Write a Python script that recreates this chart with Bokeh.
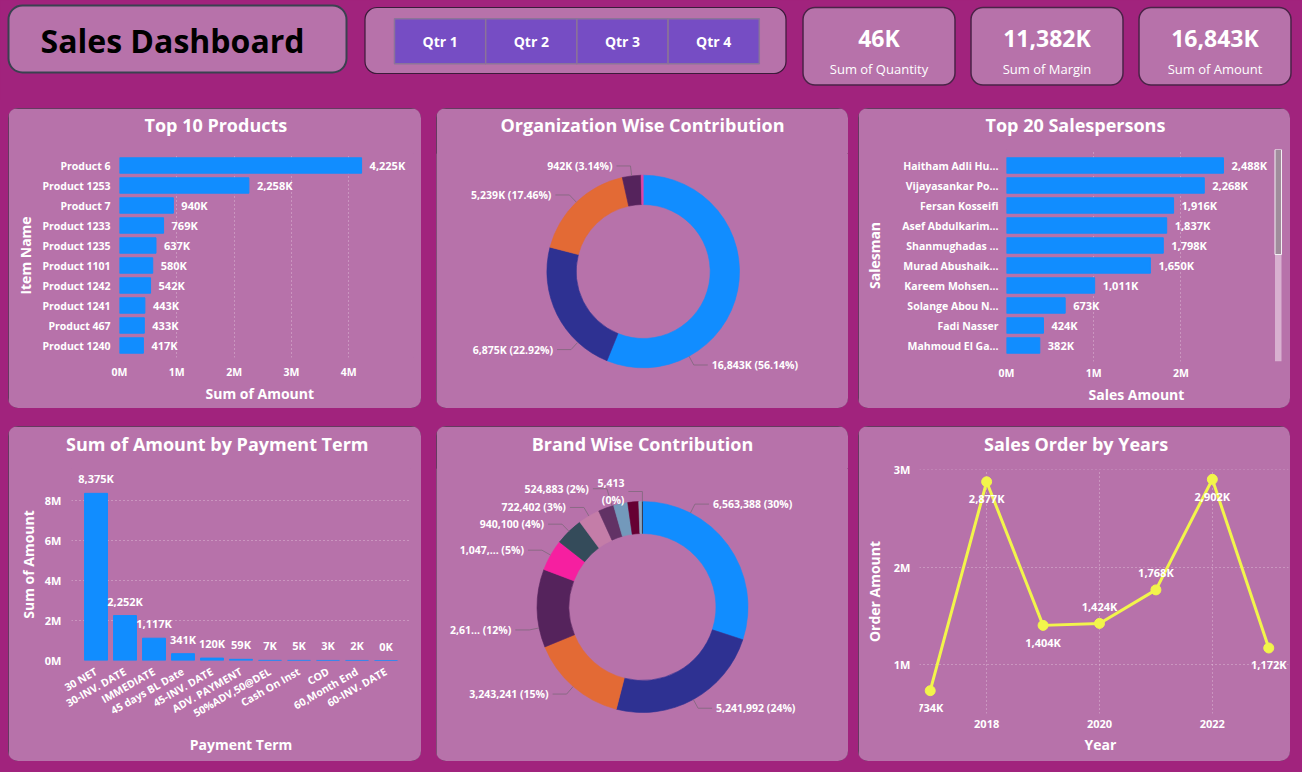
import math
from bokeh.plotting import figure
from bokeh.models import (ColumnDataSource, FactorRange, Range1d, FixedTicker,
                          BoxAnnotation, Title)
from bokeh.layouts import row, column
from bokeh.core.properties import value
from bokeh.embed import file_html
from bokeh.resources import INLINE

# ---------------- data ----------------
kpi_values_k = [46, 11382, 16843]
kpi_names = ["Sum of Quantity", "Sum of Margin", "Sum of Amount"]
quarters = ["Qtr 1", "Qtr 2", "Qtr 3", "Qtr 4"]

products = ["Product 6", "Product 1253", "Product 7", "Product 1233", "Product 1235",
            "Product 1101", "Product 1242", "Product 1241", "Product 467", "Product 1240"]
product_amount_k = [4225, 2258, 940, 769, 637, 580, 542, 443, 433, 417]
product_ticks_k = [0, 1000, 2000, 3000, 4000]
product_tick_labels = ["0M", "1M", "2M", "3M", "4M"]

org_amount_k = [16843, 6875, 5239, 942, 102]

salespersons = ["Haitham Adli Hu...", "Vijayasankar Po...", "Fersan Kosseifi",
                "Asef Abdulkarim...", "Shanmughadas ...", "Murad Abushaik...",
                "Kareem Mohsen...", "Solange Abou N...", "Fadi Nasser", "Mahmoud El Ga..."]
sales_amount_k = [2488, 2268, 1916, 1837, 1798, 1650, 1011, 673, 424, 382]
sales_ticks_k = [0, 1000, 2000]
sales_tick_labels = ["0M", "1M", "2M"]

payment_terms = ["30 NET", "30-INV. DATE", "IMMEDIATE", "45 days BL Date", "45-INV. DATE",
                 "ADV. PAYMENT", "50%ADV,50@DEL", "Cash On Inst", "COD", "60,Month End",
                 "60-INV. DATE"]
payment_amount_k = [8375, 2252, 1117, 341, 120, 59, 7, 5, 3, 2, 0]
payment_ticks_k = [0, 2000, 4000, 6000, 8000]
payment_tick_labels = ["0M", "2M", "4M", "6M", "8M"]

brand_amount = [6563388, 5241992, 3243241, 2615873, 1047250, 940100, 722402,
                524883, 475000, 365000, 120000, 5413]

years = [2017, 2018, 2019, 2020, 2021, 2022, 2023]
order_amount_k = [734, 2877, 1404, 1424, 1768, 2902, 1172]
year_ticks = [2018, 2020, 2022]
order_ticks_k = [1000, 2000, 3000]
order_tick_labels = ["1M", "2M", "3M"]

# ---------------- style ----------------
BG = "#A1237D"
PANEL = "#B772AA"
BORDER = "#4A2A47"
BLUE = "#118DFF"
WHITE = "#FFFFFF"
FONT = "Open Sans"
GRID = "#F2DDEE"

org_colors = ["#118DFF", "#2E3192", "#E36A35", "#55235C", "#E044A7"]
brand_colors = ["#118DFF", "#2E3192", "#E36A35", "#55235C", "#F61FA0", "#344B5A",
                "#C47DA8", "#623265", "#7399BB", "#660033", "#8EA6BF", "#2B2B3F"]


def panel_fig(w, h, **kw):
    p = figure(width=w, height=h, output_backend="svg", toolbar_location=None, **kw)
    p.background_fill_color = PANEL
    p.border_fill_color = PANEL
    p.outline_line_color = None
    p.frame_align = False
    p.styles = {"border-radius": "10px", "overflow": "hidden",
                "background-color": PANEL,
                "outline": f"1px solid {BORDER}", "outline-offset": "-1px"}
    return p


def set_title(p, text, gap, align="left", offset=0):
    # spacer between frame and title, then the title itself
    p.add_layout(Title(text=" ", text_font_size="10px", standoff=max(gap - 15.6, 0),
                       text_color=PANEL), "above")
    p.add_layout(Title(text=text, align=align, offset=offset, standoff=0,
                       text_color=WHITE, text_font=FONT, text_font_size="18px",
                       text_font_style="bold"), "above")


def below_title(p, text, offset, standoff=0):
    p.add_layout(Title(text=text, align="left", offset=offset, standoff=standoff,
                       text_color=WHITE, text_font=FONT, text_font_size="14px",
                       text_font_style="bold"), "below")


def style_axis(ax, size="10.5px"):
    ax.axis_line_color = None
    ax.major_tick_line_color = None
    ax.minor_tick_line_color = None
    ax.major_tick_out = 0
    ax.major_tick_in = 0
    ax.minor_tick_out = 0
    ax.minor_tick_in = 0
    ax.major_label_text_color = WHITE
    ax.major_label_text_font = FONT
    ax.major_label_text_font_size = size
    ax.major_label_text_font_style = "bold"
    ax.axis_label_text_color = WHITE
    ax.axis_label_text_font = FONT
    ax.axis_label_text_font_size = "14px"
    ax.axis_label_text_font_style = "bold"


def style_grid(g):
    g.grid_line_color = GRID
    g.grid_line_alpha = 0.65
    g.grid_line_dash = "1 3"
    g.grid_line_width = 1


def fmt_k(v):
    return f"{v:,}K"


# ---------------- header ----------------
hdr = figure(width=1302, height=100, x_range=Range1d(0, 1302), y_range=Range1d(100, 0),
             output_backend="svg", toolbar_location=None, x_axis_type=None,
             y_axis_type=None, min_border=0)
hdr.background_fill_color = BG
hdr.border_fill_color = BG
hdr.outline_line_color = None
hdr.frame_align = False


def rbox(p, l, r, t, b, radius, fill, line, lw):
    p.add_layout(BoxAnnotation(left=l, right=r, top=t, bottom=b, border_radius=radius,
                               fill_color=fill, fill_alpha=1, line_color=line,
                               line_alpha=1, line_width=lw, level="underlay"))


rbox(hdr, 8, 346, 5, 72, 14, PANEL, "#3A4150", 2)
rbox(hdr, 364.5, 785.5, 7, 73, 12, PANEL, "#3B1A3A", 1.2)
card_l = [802.5, 970.5, 1138.5]
card_w = 152
for l in card_l:
    rbox(hdr, l, l + card_w, 7, 84.5, 12, PANEL, "#4A2347", 1.5)

hdr.text(x=[172], y=[40], text=["Sales Dashboard"], text_align="center",
         text_baseline="middle", text_font=value(FONT), text_font_style="bold",
         text_font_size="32px", text_color="#000000")

btn_w = 91.2
qsrc = ColumnDataSource(dict(
    left=[394 + i * btn_w for i in range(len(quarters))],
    right=[394 + (i + 1) * btn_w for i in range(len(quarters))],
    cx=[394 + (i + 0.5) * btn_w for i in range(len(quarters))],
    q=quarters))
hdr.quad(left="left", right="right", top=18.3, bottom=63.3, source=qsrc,
         fill_color="#764DC4", line_color="#8B7399", line_width=1.5)
hdr.text(x="cx", y=41, text="q", source=qsrc, text_align="center", text_baseline="middle",
         text_font=value(FONT), text_font_style="bold", text_font_size="14px",
         text_color=WHITE)

ksrc = ColumnDataSource(dict(cx=[l + card_w / 2 for l in card_l],
                             v=[fmt_k(v) for v in kpi_values_k], n=kpi_names))
hdr.text(x="cx", y=37, text="v", source=ksrc, text_align="center", text_baseline="middle",
         text_font=value(FONT), text_font_style="bold", text_font_size="23px",
         text_color=WHITE)
hdr.text(x="cx", y=68, text="n", source=ksrc, text_align="center", text_baseline="middle",
         text_font=value(FONT), text_font_size="13px", text_color=WHITE)

# ---------------- panel 1: top 10 products ----------------
p1 = panel_fig(413, 300,
               y_range=FactorRange(factors=list(reversed(products)), range_padding=0.1,
                                   range_padding_units="absolute"),
               x_range=Range1d(0, 5131))
p1.min_border_left = 111
p1.min_border_right = 8
p1.min_border_top = 45
p1.min_border_bottom = 51
set_title(p1, "Top 10 Products", gap=20, offset=25)
s1 = ColumnDataSource(dict(y=products, v=product_amount_k,
                           lab=[fmt_k(v) for v in product_amount_k]))
p1.hbar(y="y", right="v", left=0, height=0.77, source=s1, color=BLUE)
p1.text(x="v", y="y", text="lab", source=s1, x_offset=8, text_baseline="middle",
        text_font=value(FONT), text_font_style="bold", text_font_size="11px",
        text_color=WHITE)
p1.ygrid.visible = False
style_grid(p1.xgrid)
p1.xaxis.ticker = FixedTicker(ticks=product_ticks_k)
p1.xaxis.major_label_overrides = dict(zip(product_ticks_k, product_tick_labels))
p1.yaxis.axis_label = "Item Name"
style_axis(p1.xaxis)
style_axis(p1.yaxis)
p1.xaxis.major_label_standoff = 7
p1.yaxis.major_label_standoff = 9
p1.yaxis.axis_label_standoff = 4
below_title(p1, "Sum of Amount", offset=86)


# ---------------- donut helper ----------------
def donut(p, values, colors, cx, cy, r_in, r_out, labels, anchors, elbows, hlen=14,
          font_size="10.5px"):
    total = float(sum(values))
    starts, ends = [], []
    cum = 0.0
    lx, ly, la, lt, xs, ys = [], [], [], [], [], []
    for v, lab, fr, el in zip(values, labels, anchors, elbows):
        f0 = cum / total
        cum += v
        f1 = cum / total
        a0 = math.pi / 2 - 2 * math.pi * f0
        a1 = math.pi / 2 - 2 * math.pi * f1
        starts.append(a1)
        ends.append(a0)
        if lab and fr is not None:
            a = math.pi / 2 - 2 * math.pi * (f0 + fr * (f1 - f0))
            dx, dy = math.cos(a), math.sin(a)
            side = 1 if dx >= 0 else -1
            x1, y1 = cx + r_out * dx, cy + r_out * dy
            x2, y2 = cx + (r_out + el) * dx, cy + (r_out + el) * dy
            x3 = x2 + side * hlen
            xs.append([x1, x2, x3])
            ys.append([y1, y2, y2])
            lx.append(x3 + side * 4)
            ly.append(y2)
            la.append("left" if side > 0 else "right")
            lt.append(lab)
    p.annular_wedge(x=cx, y=cy, inner_radius=r_in, outer_radius=r_out,
                    start_angle=starts, end_angle=ends, direction="anticlock",
                    fill_color=colors, line_color=colors, line_width=0.6)
    p.multi_line(xs=xs, ys=ys, line_color="#8A6A85", line_width=1)
    src = ColumnDataSource(dict(x=lx, y=ly, a=la, t=lt))
    p.text(x="x", y="y", text="t", text_align="a", source=src, text_baseline="middle",
           text_font=value(FONT), text_font_style="bold", text_font_size=font_size,
           text_color=WHITE, text_line_height=1.25)


# ---------------- panel 2: organization donut ----------------
p2 = panel_fig(412, 300, x_range=Range1d(0, 412), y_range=Range1d(0, 255),
               x_axis_type=None, y_axis_type=None, min_border=0)
p2.min_border_top = 45
set_title(p2, "Organization Wise Contribution", gap=20, align="center")
p2.grid.visible = False
org_total = sum(org_amount_k)
org_labels = [f"{v:,}K ({100 * v / org_total:.2f}%)" for v in org_amount_k]
org_labels[-1] = ""
donut(p2, org_amount_k, org_colors, 206.7, 137, 67, 96.3, org_labels,
      [0.75, 0.25, 0.5, 0.5, None], [10] * 5)

# ---------------- panel 3: salespersons ----------------
p3 = panel_fig(432, 300,
               y_range=FactorRange(factors=list(reversed(salespersons)), range_padding=0.3,
                                   range_padding_units="absolute"),
               x_range=Range1d(0, 3188))
p3.min_border_left = 148
p3.min_border_right = 6
p3.min_border_top = 41
p3.min_border_bottom = 47
set_title(p3, "Top 20 Salespersons", gap=16, offset=-21)
s3 = ColumnDataSource(dict(y=salespersons, v=sales_amount_k,
                           lab=[fmt_k(v) for v in sales_amount_k]))
p3.hbar(y="y", right="v", left=0, height=0.77, source=s3, color=BLUE)
p3.text(x="v", y="y", text="lab", source=s3, x_offset=8, text_baseline="middle",
        text_font=value(FONT), text_font_style="bold", text_font_size="11px",
        text_color=WHITE)
# scrollbar (decoration at the right edge of the plot frame)
px3 = 3188 / 278.0
p3.quad(left=268.5 * px3, right=275 * px3, top=10.3, bottom=-0.3,
        fill_color="#D8B0D0", line_color=None)
p3.quad(left=268.5 * px3, right=275 * px3, top=10.3, bottom=5.05,
        fill_color="#A08C9C", line_color="#F4F0F4", line_width=1)
p3.ygrid.visible = False
style_grid(p3.xgrid)
p3.xaxis.ticker = FixedTicker(ticks=sales_ticks_k)
p3.xaxis.major_label_overrides = dict(zip(sales_ticks_k, sales_tick_labels))
p3.yaxis.axis_label = "Salesman"
style_axis(p3.xaxis)
style_axis(p3.yaxis)
p3.xaxis.major_label_standoff = 4
p3.yaxis.major_label_standoff = 8
p3.yaxis.axis_label_standoff = 15
below_title(p3, "Sales Amount", offset=82)

# ---------------- panel 4: payment term ----------------
p4 = panel_fig(413, 335,
               x_range=FactorRange(factors=payment_terms, range_padding=0.345,
                                   range_padding_units="absolute"),
               y_range=Range1d(0, 9620))
p4.min_border_left = 63
p4.min_border_right = 11
p4.min_border_top = 42
p4.min_border_bottom = 101
set_title(p4, "Sum of Amount by Payment Term", gap=16, offset=-5.5)
s4 = ColumnDataSource(dict(x=payment_terms, v=payment_amount_k,
                           lab=[fmt_k(v) for v in payment_amount_k]))
p4.vbar(x="x", top="v", bottom=0, width=0.79, source=s4, color=BLUE)
p4.text(x="x", y="v", text="lab", source=s4, y_offset=-7, text_align="center",
        text_baseline="bottom", text_font=value(FONT), text_font_style="bold",
        text_font_size="11px", text_color=WHITE)
p4.xgrid.visible = False
style_grid(p4.ygrid)
p4.yaxis.ticker = FixedTicker(ticks=payment_ticks_k)
p4.yaxis.major_label_overrides = dict(zip(payment_ticks_k, payment_tick_labels))
p4.xaxis.axis_label = "Payment Term"
p4.yaxis.axis_label = "Sum of Amount"
style_axis(p4.xaxis)
style_axis(p4.yaxis, size="11px")
p4.xaxis.major_label_orientation = 0.52
p4.xaxis.major_label_standoff = 10
p4.xaxis.axis_label_standoff = 6
p4.yaxis.major_label_standoff = 10
p4.yaxis.axis_label_standoff = 4

# ---------------- panel 5: brand donut ----------------
p5 = panel_fig(412, 335, x_range=Range1d(0, 412), y_range=Range1d(0, 293),
               x_axis_type=None, y_axis_type=None, min_border=0)
p5.min_border_top = 42
set_title(p5, "Brand Wise Contribution", gap=16, align="center")
p5.grid.visible = False
brand_total = sum(brand_amount)
brand_labels = [f"{v:,} ({100 * v / brand_total:.0f}%)" for v in brand_amount]
brand_trunc = {3: 4, 4: 6}
for i, n in brand_trunc.items():
    v = brand_amount[i]
    brand_labels[i] = f"{v:,}"[:n] + f"... ({100 * v / brand_total:.0f}%)"
brand_labels[-1] = f"{brand_amount[-1]:,}\n({100 * brand_amount[-1] / brand_total:.0f}%)"
for i in (8, 9, 10):
    brand_labels[i] = ""
donut(p5, brand_amount, brand_colors, 206, 154.5, 73.5, 105.5, brand_labels,
      [0.25, 0.5, 0.5, 0.25, 0.5, 0.5, 0.5, 0.9, None, None, None, 0.5],
      [10, 10, 10, 10, 10, 10, 10, 18, 10, 10, 10, 10])

# ---------------- panel 6: sales order by years ----------------
p6 = panel_fig(432, 335, x_range=Range1d(2016.81, 2023.35), y_range=Range1d(500, 3003))
p6.min_border_left = 61
p6.min_border_right = 2
p6.min_border_top = 43
p6.min_border_bottom = 48
set_title(p6, "Sales Order by Years", gap=17, offset=64.5)
label_side = ["below", "below", "below", "above", "above", "below", "below"]
s6 = ColumnDataSource(dict(x=years, v=order_amount_k, lab=[fmt_k(v) for v in order_amount_k],
                           off=[17 if s == "below" else -17 for s in label_side]))
p6.line(x="x", y="v", source=s6, line_color="#F2F54B", line_width=3)
p6.scatter(x="x", y="v", source=s6, size=10, fill_color="#F2F54B", line_color="#F2F54B")
p6.text(x="x", y="v", text="lab", source=s6, y_offset="off", text_align="center",
        text_baseline="middle", text_font=value(FONT), text_font_style="bold",
        text_font_size="11px", text_color=WHITE)
style_grid(p6.xgrid)
style_grid(p6.ygrid)
p6.xaxis.ticker = FixedTicker(ticks=year_ticks)
p6.yaxis.ticker = FixedTicker(ticks=order_ticks_k)
p6.yaxis.major_label_overrides = dict(zip(order_ticks_k, order_tick_labels))
p6.yaxis.axis_label = "Order Amount"
style_axis(p6.xaxis, size="11px")
style_axis(p6.yaxis, size="11px")
p6.xaxis.major_label_standoff = 6
p6.yaxis.major_label_standoff = 9
p6.yaxis.axis_label_standoff = 7
below_title(p6, "Year", offset=165, standoff=4)

# ---------------- layout ----------------
p1.margin = (0, 0, 0, 8)
p2.margin = (0, 0, 0, 15)
p3.margin = (0, 0, 0, 10)
p4.margin = (0, 0, 0, 8)
p5.margin = (0, 0, 0, 15)
p6.margin = (0, 0, 0, 10)
row1 = row(p1, p2, p3)
row1.margin = (8, 0, 0, 0)
row2 = row(p4, p5, p6)
row2.margin = (18, 0, 0, 0)
root = column(hdr, row1, row2, styles={"background-color": BG})
root.width = 1302
root.height = 772

open("out.html", "w").write(file_html(root, INLINE))
